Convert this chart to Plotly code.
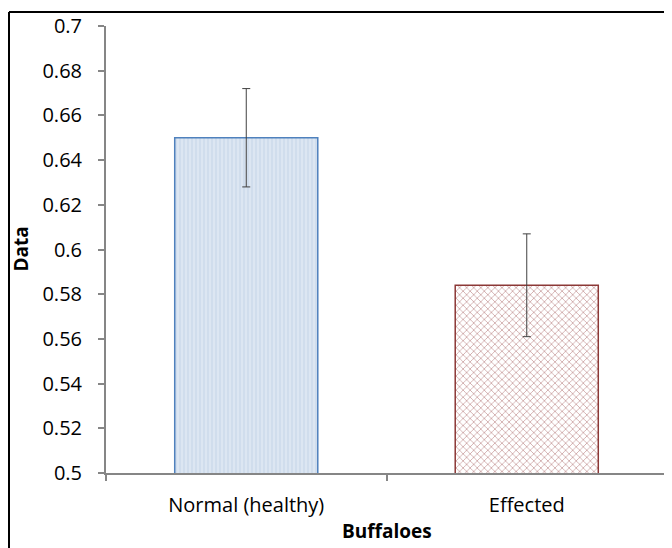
import plotly.graph_objects as go

categories = ["Normal (healthy)", "Effected"]
values = [0.65, 0.584]
errors = [0.022, 0.023]
y_ticks = [0.5, 0.52, 0.54, 0.56, 0.58, 0.6, 0.62, 0.64, 0.66, 0.68, 0.7]
y_tick_labels = ["0.5", "0.52", "0.54", "0.56", "0.58", "0.6", "0.62", "0.64", "0.66", "0.68", "0.7"]
x_title = "Buffaloes"
y_title = "Data"

font_family = "Open Sans, sans-serif"

fig = go.Figure()
fig.add_trace(go.Bar(
    x=[categories[0]], y=[values[0]],
    width=0.51,
    marker=dict(
        color="#dce6f2",
        line=dict(color="#4f81bd", width=1.5),
        pattern=dict(shape="|", bgcolor="#dce6f2", fgcolor="#b3c7e0", size=4, solidity=0.3),
    ),
    error_y=dict(type="data", array=[errors[0]], color="#404040", thickness=1, width=4),
    showlegend=False,
))
fig.add_trace(go.Bar(
    x=[categories[1]], y=[values[1]],
    width=0.51,
    marker=dict(
        color="white",
        line=dict(color="#8c3836", width=1.5),
        pattern=dict(shape="x", bgcolor="white", fgcolor="#9b4d4d", size=5, solidity=0.3),
    ),
    error_y=dict(type="data", array=[errors[1]], color="#404040", thickness=1, width=4),
    showlegend=False,
))

W, H = 664, 540
L, R, T, B = 98, 5, 18, 75
pw = W - L - R
ph = H - T - B

fig.update_layout(
    width=W, height=H,
    margin=dict(l=L, r=R, t=T, b=B, autoexpand=False),
    paper_bgcolor="white", plot_bgcolor="white",
    font=dict(family=font_family, size=19, color="#000000"),
    barmode="overlay",
    xaxis=dict(
        type="category",
        categoryorder="array", categoryarray=categories,
        range=[-0.5, 1.5],
        showline=True, linecolor="#868686", linewidth=2,
        ticks="outside", tickson="boundaries", ticklen=6, tickcolor="#868686", tickwidth=2,
        showgrid=False,
        ticklabelstandoff=13,
        tickfont=dict(size=20, color="#000000"),
        automargin=False,
    ),
    yaxis=dict(
        range=[0.5, 0.7],
        tickvals=y_ticks, ticktext=y_tick_labels,
        showline=True, linecolor="#868686", linewidth=2,
        ticks="outside", ticklen=6, tickcolor="#868686", tickwidth=2,
        showgrid=False, zeroline=False,
        ticklabelstandoff=12,
        tickfont=dict(size=20, color="#000000"),
        automargin=False,
    ),
    annotations=[
        dict(text="<b>" + x_title + "</b>", xref="paper", yref="paper",
             x=0.5, y=(ph - (523 - T)) / ph, xanchor="center", yanchor="middle",
             showarrow=False, font=dict(size=19)),
        dict(text="<b>" + y_title + "</b>", xref="paper", yref="paper",
             x=(12 - L) / pw, y=0.5, xanchor="center", yanchor="middle",
             textangle=-90, showarrow=False, font=dict(size=19)),
    ],
    shapes=[
        dict(type="line", xref="paper", yref="paper",
             x0=(1 - L) / pw, x1=(1 - L) / pw, y0=-0.3, y1=(ph + T - 4) / ph,
             line=dict(color="black", width=2), layer="below"),
        dict(type="line", xref="paper", yref="paper",
             x0=(1 - L) / pw, x1=1.1, y0=(ph + T - 4) / ph, y1=(ph + T - 4) / ph,
             line=dict(color="black", width=2), layer="below"),
    ],
)

fig.write_html("out.html")
